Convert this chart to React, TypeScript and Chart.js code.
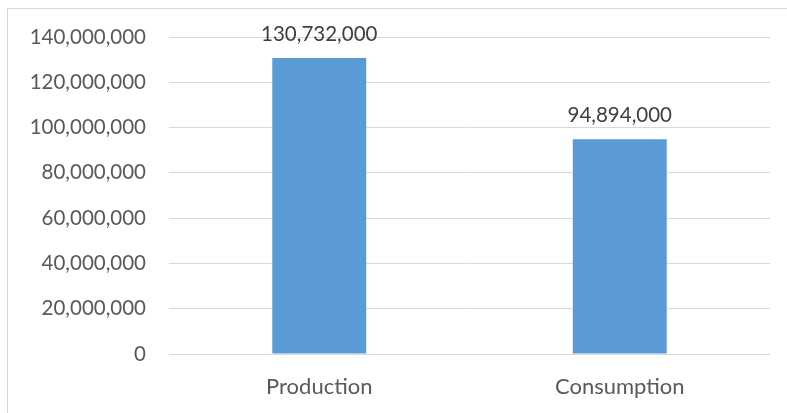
import React, { useEffect, useRef } from "react";
import { Chart, registerables } from "chart.js";

Chart.register(...registerables);

const categories = ["Production", "Consumption"];
const values = [130732000, 94894000];
const yMax = 140000000;
const yStep = 20000000;

const FONT = "Lato, 'Open Sans', sans-serif";

const dataLabelPlugin = {
  id: "dataLabels",
  afterDatasetsDraw(chart: any) {
    const ctx = chart.ctx;
    const meta = chart.getDatasetMeta(0);
    ctx.save();
    ctx.font = `20.5px ${FONT}`;
    ctx.fillStyle = "#404040";
    ctx.textAlign = "center";
    ctx.textBaseline = "alphabetic";
    meta.data.forEach((bar: any, i: number) => {
      const v = chart.data.datasets[0].data[i] as number;
      ctx.fillText(v.toLocaleString("en-US"), bar.x, bar.y - 17);
    });
    ctx.restore();
  },
};

export default function App() {
  const ref = useRef<HTMLCanvasElement | null>(null);
  useEffect(() => {
    if (!ref.current) return;
    const chart = new Chart(ref.current, {
      type: "bar",
      data: {
        labels: categories,
        datasets: [
          {
            data: values,
            backgroundColor: "#5B9BD5",
            barPercentage: 0.625,
            categoryPercentage: 0.5,
          },
        ],
      },
      options: {
        animation: false,
        responsive: false,
        maintainAspectRatio: false,
        layout: { padding: { top: 37, right: 17, bottom: 0, left: 0 } },
        plugins: { legend: { display: false }, tooltip: { enabled: false } },
        scales: {
          x: {
            grid: { display: false, drawTicks: false },
            border: { display: false },
            ticks: {
              color: "#595959",
              font: { family: FONT, size: 22 },
              padding: 20,
            },
            afterFit: (s: any) => {
              s.height = 59;
            },
          },
          y: {
            min: 0,
            max: yMax,
            grid: { color: "#d9d9d9", lineWidth: 1, drawTicks: false },
            border: { display: false },
            ticks: {
              stepSize: yStep,
              color: "#595959",
              font: { family: FONT, size: 20.5 },
              padding: 23,
              callback: (v: any) => Number(v).toLocaleString("en-US"),
            },
            afterFit: (s: any) => {
              s.width = 169;
            },
          },
        },
      },
      plugins: [dataLabelPlugin],
    });
    return () => chart.destroy();
  }, []);
  return (
    <div style={{ position: "fixed", left: 0, top: 0, width: 787, height: 413, background: "#fff", overflow: "hidden" }}>
      <div
        style={{
          position: "absolute",
          left: 7,
          top: 8,
          width: 820,
          height: 430,
          border: "1px solid #d9d9d9",
        }}
      />
      <canvas ref={ref} width={787} height={413} style={{ position: "absolute", left: 0, top: 0 }} />
    </div>
  );
}
